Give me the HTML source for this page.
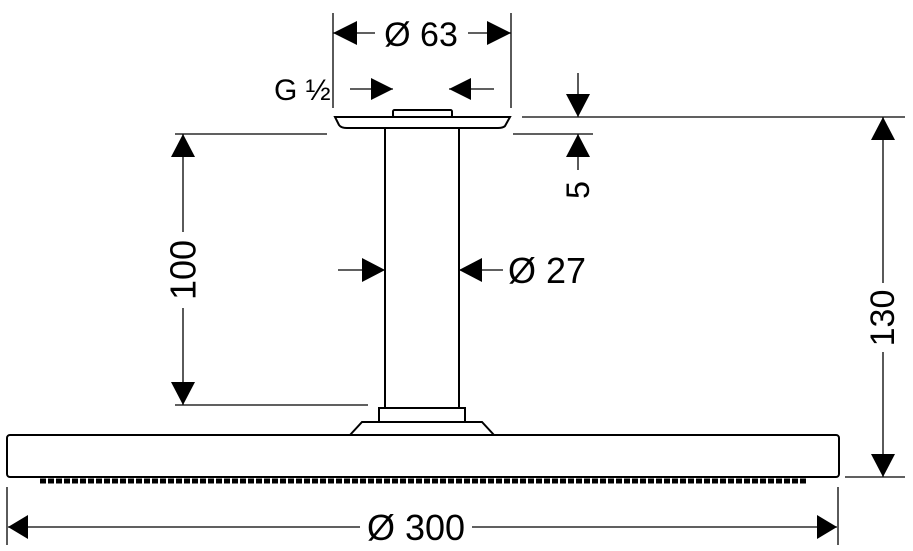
<!DOCTYPE html>
<html><head><meta charset="utf-8"><style>
html,body{margin:0;padding:0;background:#fff}
svg{display:block}
text{font-family:"Liberation Sans","DejaVu Sans",sans-serif;fill:#000}
</style></head><body>
<svg width="913" height="551" viewBox="0 0 913 551" xmlns="http://www.w3.org/2000/svg">
<g stroke="#000" fill="none" stroke-width="1.3">
<line x1="333" y1="13" x2="333" y2="108"/>
<line x1="511" y1="13" x2="511" y2="108"/>
<line x1="522" y1="117" x2="905" y2="117"/>
<line x1="513" y1="134" x2="593" y2="134"/>
<line x1="175" y1="134" x2="327" y2="134"/>
<line x1="175" y1="405" x2="368" y2="405"/>
<line x1="845" y1="477" x2="905" y2="477"/>
<line x1="7" y1="487" x2="7" y2="545"/>
<line x1="838" y1="487" x2="838" y2="545"/>
<line x1="333" y1="33" x2="375" y2="33"/><line x1="468" y1="33" x2="511" y2="33"/>
<line x1="350" y1="89" x2="393" y2="89"/><line x1="449" y1="89" x2="494" y2="89"/>
<line x1="578" y1="73" x2="578" y2="117"/><line x1="578" y1="134" x2="578" y2="170"/>
<line x1="183" y1="134" x2="183" y2="232"/><line x1="183" y1="308" x2="183" y2="405"/>
<line x1="338" y1="270" x2="385" y2="270"/><line x1="459" y1="270" x2="503" y2="270"/>
<line x1="883" y1="117" x2="883" y2="283"/><line x1="883" y1="352" x2="883" y2="477"/>
<line x1="8" y1="527" x2="360" y2="527"/><line x1="472" y1="527" x2="837" y2="527"/>
<rect x="393" y="110" width="59" height="7" rx="1.5" stroke-width="2"/>
<path d="M335 117 H510 L505 126 Q503 128 498 128 H347 Q341 128 339 125 Z" stroke-width="2"/>
<line x1="385" y1="128" x2="385" y2="408" stroke-width="2"/>
<line x1="459" y1="128" x2="459" y2="408" stroke-width="2"/>
<rect x="379" y="408" width="86" height="14" stroke-width="2"/>
<path d="M350 435 L362 422 H482 L494 435" stroke-width="2"/>
<rect x="7" y="435" width="832" height="42" rx="3" stroke-width="2"/>
<line x1="40" y1="481" x2="808" y2="481" stroke-width="5" stroke-dasharray="6 2"/>
</g>
<g fill="#000">
<polygon points="333,33 357,21 357,45"/><polygon points="511,33 487,21 487,45"/>
<polygon points="393,89 371,78 371,100"/><polygon points="449,89 471,78 471,100"/>
<polygon points="578,117 566,94 590,94"/><polygon points="578,134 566,157 590,157"/>
<polygon points="183,134 171,157 195,157"/><polygon points="183,405 171,382 195,382"/>
<polygon points="385,270 362,258 362,282"/><polygon points="459,270 482,258 482,282"/>
<polygon points="883,117 871,140 895,140"/><polygon points="883,477 871,454 895,454"/>
<polygon points="8,527 28,515 28,539"/><polygon points="837,527 817,515 817,539"/>
</g>
<text x="421" y="46" font-size="34" text-anchor="middle">Ø 63</text>
<text x="274" y="100" font-size="30">G ½</text>
<text x="578" y="190" font-size="32" text-anchor="middle" dominant-baseline="central" transform="rotate(-90 578 190)">5</text>
<text x="183" y="270" font-size="36" text-anchor="middle" dominant-baseline="central" transform="rotate(-90 183 270)">100</text>
<text x="508" y="283" font-size="36">Ø 27</text>
<text x="883" y="318" font-size="34" text-anchor="middle" dominant-baseline="central" transform="rotate(-90 883 318)">130</text>
<text x="416" y="540" font-size="36" text-anchor="middle">Ø 300</text>
</svg>
</body></html>
